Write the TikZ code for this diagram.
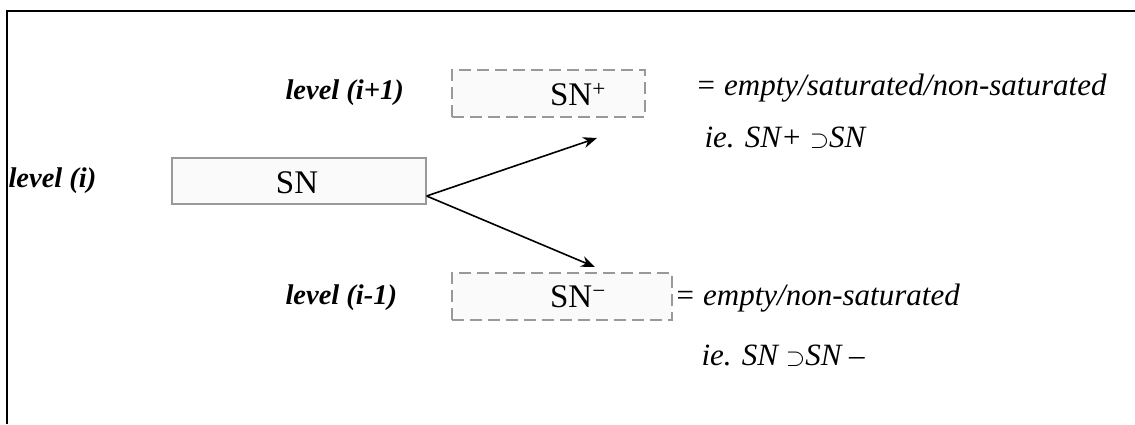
\documentclass[tikz,border=0pt]{standalone}
\usepackage{fontspec}
\setmainfont{Liberation Serif}
\usetikzlibrary{arrows.meta}

\begin{document}
\begin{tikzpicture}[
            x = 1pt, y = -1pt,
            snbox/.style = {draw = black!40, fill = black!2, line width = 1.2pt, inner sep = 0pt},
            newbox/.style = {snbox, dash pattern = on 12pt off 6pt},
            sntext/.style = {font = \fontsize{33}{33}\selectfont},
            lvl/.style = {anchor = west, font = \fontsize{28.5}{28.5}\selectfont\bfseries\itshape},
            note/.style = {anchor = west, font = \fontsize{31}{31}\selectfont\itshape},
            link/.style = {-{Stealth[length = 14pt, width = 11pt]}, line width = 1.6pt}
            ]
            \useasboundingbox (0,0) rectangle (1135,424);
            \draw[line width = 2pt] (7,424) -- (7,11) -- (1135,11);
            % boxes
            \node[snbox, minimum width = 254pt, minimum height = 46pt] (sn) at (299,181) {};
            \node[newbox, minimum width = 193pt, minimum height = 47pt] (snplus) at (548.5,93.5) {};
            \node[newbox, minimum width = 220pt, minimum height = 47pt] (snminus) at (562,296.5) {};
            \node[sntext] (sntxt) at (297,183) {SN};
            \node[sntext] (snplustxt) at (578,95) {SN\textsuperscript{+}};
            \node[sntext] (snminustxt) at (578,297) {SN\textsuperscript{\textminus}};
            % levels
            \node[lvl] (lvli) at (5,181) {level (i)};
            \node[lvl] (lvlup) at (282,93) {level (i+1)};
            \node[lvl] (lvldown) at (282,298) {level (i-1)};
            % notes
            \node[note] (noteup) at (692,88) {= empty/saturated/non-saturated};
            \node[note] (ieup) at (701,138) {ie. SN+ $\supset$SN};
            \node[note] (notedown) at (671,298) {= empty/non-saturated};
            \node[note] (iedown) at (698,356) {ie. SN $\supset$SN \textendash};
            % arrows
            \coordinate (tipup) at (597,138);
            \coordinate (tipdown) at (595,267);
            \draw[link] ([yshift = -15pt]sn.east) -- (tipup);
            \draw[link] ([yshift = -15pt]sn.east) -- (tipdown);
          \end{tikzpicture}
\end{document}
